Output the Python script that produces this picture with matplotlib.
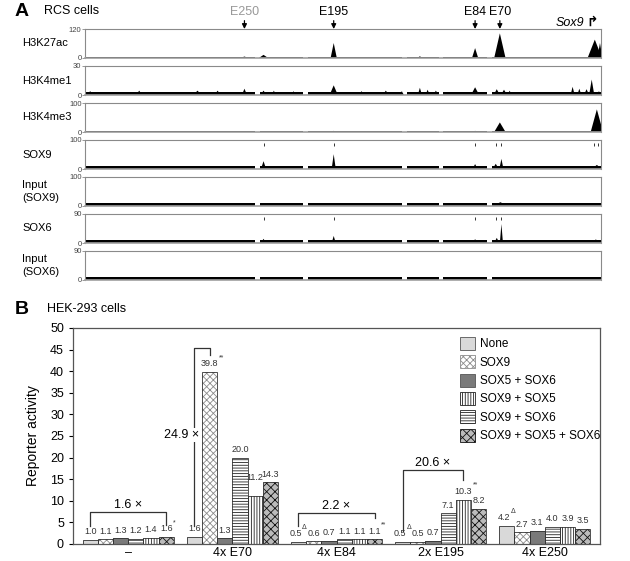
import matplotlib
matplotlib.use('Agg')
import matplotlib.pyplot as plt
import matplotlib.patches as mpatches

plt.rcParams['font.family'] = ['Liberation Sans', 'DejaVu Sans']
plt.rcParams['hatch.linewidth'] = 0.6

W, H = 630, 561

# ---------------- panel A data (position = % of the window, Sox9 at right) ----------------
track_names = ['H3K27ac', 'H3K4me1', 'H3K4me3', 'SOX9', 'Input\n(SOX9)', 'SOX6', 'Input\n(SOX6)']
track_max = [120, 30, 100, 100, 100, 90, 90]
track_base = [6, 3, 3, 10, 10, 8, 8]
# peaks: (position, height, half width)
track_peaks = [
    [(30.9, 6, 0.8), (34.6, 13, 0.9), (48.2, 62, 0.6), (64.9, 7, 0.5), (75.6, 41, 0.6),
     (80.4, 102, 1.1), (98.8, 76, 1.4), (99.8, 62, 0.5)],
    [(1.0, 4, 0.6), (10.5, 4.5, 0.6), (21.8, 4.5, 0.8), (25.7, 4.5, 0.6), (30.9, 6.5, 0.5),
     (34.6, 4.5, 0.6), (36.6, 4.5, 0.4), (40.4, 4, 0.4), (48.2, 10, 0.8), (53.6, 4, 0.5),
     (58.3, 4.5, 0.6), (61.4, 4, 0.4), (64.9, 7.5, 0.4), (66.4, 5.5, 0.4), (68.0, 4.5, 0.5),
     (75.6, 8, 0.8), (79.8, 6, 0.6), (81.2, 5.5, 0.6), (82.3, 4.5, 0.4), (94.5, 8.5, 0.4),
     (95.8, 6.5, 0.4), (97.2, 6, 0.5), (98.2, 16, 0.5), (99.6, 4, 0.4)],
    [(48.2, 4, 0.4), (75.6, 4, 0.4), (80.4, 33, 1.1), (99.2, 78, 1.2)],
    [(34.6, 27, 0.5), (48.2, 51, 0.4), (75.6, 17, 0.5), (79.6, 18, 0.6), (80.7, 35, 0.4),
     (99.2, 14, 1.0)],
    [(80.5, 13, 1.5)],
    [(34.6, 13, 0.5), (48.2, 22, 0.4), (75.6, 12, 0.5), (79.8, 16, 0.5), (80.7, 59, 0.3),
     (99.0, 11, 1.0)],
    [],
]
gaps = [33.4, 42.7, 61.9, 69.0, 78.4]
peak_calls = {3: [34.6, 48.2, 75.6, 79.6, 80.7, 98.7, 99.5],
              5: [34.6, 48.2, 75.6, 79.6, 80.7]}
enh_names = ['E250', 'E195', 'E84', 'E70']
enh_pos = [30.9, 48.2, 75.6, 80.4]
enh_colors = ['#999999', 'black', 'black', 'black']

# ---------------- panel B data ----------------
groups = ['\u2013', '4x E70', '4x E84', '2x E195', '4x E250']
series = ['None', 'SOX9', 'SOX5 + SOX6', 'SOX9 + SOX6', 'SOX9 + SOX5', 'SOX9 + SOX5 + SOX6']
values = [
    [1.0, 1.6, 0.5, 0.5, 4.2],
    [1.1, 39.8, 0.6, 0.5, 2.7],
    [1.3, 1.3, 0.7, 0.7, 3.1],
    [1.2, 20.0, 1.1, 7.1, 4.0],
    [1.4, 11.2, 1.1, 10.3, 3.9],
    [1.6, 14.3, 1.1, 8.2, 3.5],
]
marks = [
    ['', '', '\u0394', '\u0394', '\u0394'],
    ['', '**', '', '', ''],
    ['', '', '', '', ''],
    ['', '', '', '', ''],
    ['', '', '', '**', ''],
    ['*', '', '**', '', ''],
]
legend_order = ['None', 'SOX9', 'SOX5 + SOX6', 'SOX9 + SOX5', 'SOX9 + SOX6', 'SOX9 + SOX5 + SOX6']
# (group, first bar, last bar, left foot, right foot, top, text)
brackets = [
    (0, 0, 5, 4.2, 4.5, 7.4, '1.6 \u00d7'),
    (1, 0, 1, 4.2, 43.7, 45.4, '24.9 \u00d7'),
    (2, 0, 5, 4.2, 6.0, 7.2, '2.2 \u00d7'),
    (3, 0, 4, 3.0, 14.8, 17.1, '20.6 \u00d7'),
]

styles = {
    'None': dict(face='#d9d9d9', hatch=None, hcol='#d9d9d9'),
    'SOX9': dict(face='white', hatch='xxxxx', hcol='#8c8c8c'),
    'SOX5 + SOX6': dict(face='#7a7a7a', hatch=None, hcol='#7a7a7a'),
    'SOX9 + SOX6': dict(face='white', hatch='------', hcol='#222222'),
    'SOX9 + SOX5': dict(face='white', hatch='||||||', hcol='#222222'),
    'SOX9 + SOX5 + SOX6': dict(face='#bbbbbb', hatch='xxxx', hcol='#111111'),
}


def box(l, t, w, h):
    return [l / W, 1 - (t + h) / H, w / W, h / H]


fig = plt.figure(figsize=(W / 100, H / 100), dpi=100)

fig.text(15 / W, 1 - 12 / H, 'A', fontsize=14, fontweight='bold', va='center')
fig.text(44 / W, 1 - 11 / H, 'RCS cells', fontsize=9, va='center')

tr_left, tr_width, tr_top0, tr_step, tr_h = 85, 516, 29, 37, 29
track_axes = []
for i, name in enumerate(track_names):
    ax = fig.add_axes(box(tr_left, tr_top0 + i * tr_step, tr_width, tr_h))
    track_axes.append(ax)
    ymax = track_max[i]
    base = track_base[i]
    # baseline band, broken at gaps
    edges = [0]
    for g in gaps:
        edges += [g - 0.45, g + 0.45]
    edges.append(100)
    for a, b in zip(edges[::2], edges[1::2]):
        ax.fill_between([a, b], 0, base, color='black', lw=0)
    for c, h, w in track_peaks[i]:
        ax.fill([c - w, c, c + w], [0, h, 0], color='black', lw=0)
    if i in peak_calls:
        ax.vlines(peak_calls[i], 0.78 * ymax, 0.91 * ymax, color='#333333', lw=0.7)
    ax.set_xlim(0, 100)
    ax.set_ylim(0, ymax)
    ax.set_xticks([])
    ax.set_yticks([0, ymax])
    ax.set_yticklabels(['0', str(ymax)], fontsize=5.5, color='#444444')
    ax.tick_params(axis='y', length=2, width=0.6, color='#888888', pad=0.5)
    for s in ['top', 'left', 'right']:
        ax.spines[s].set_color('#8a8a8a')
        ax.spines[s].set_linewidth(0.8)
    ax.spines['bottom'].set_color('#a0a0a0')
    ax.spines['bottom'].set_linewidth(1.2)
    fig.text(22 / W, 1 - (tr_top0 + i * tr_step + tr_h / 2) / H, name,
             fontsize=8, va='center', ha='left', linespacing=1.3)

ax0 = track_axes[0]
for name, pos, col in zip(enh_names, enh_pos, enh_colors):
    ax0.annotate(name, xy=(pos, 1.0), xycoords=('data', 'axes fraction'),
                 xytext=(0, 8), textcoords='offset points', ha='center', va='bottom',
                 fontsize=9, color=col,
                 arrowprops=dict(arrowstyle='-|>', color='black', lw=0.9,
                                 shrinkA=0, shrinkB=0, mutation_scale=7))
ax0.text(94.0, 1.0, 'Sox9', transform=ax0.get_xaxis_transform(), fontsize=9,
         style='italic', ha='center', va='bottom')
ax0.text(98.2, 1.02, '\u21b1', transform=ax0.get_xaxis_transform(), fontsize=10,
         fontweight='bold', ha='center', va='bottom', family='DejaVu Sans')

# ---------------- panel B ----------------
fig.text(15 / W, 1 - 309 / H, 'B', fontsize=14, fontweight='bold', va='center')
fig.text(47 / W, 1 - 309 / H, 'HEK-293 cells', fontsize=9, va='center')

axb = fig.add_axes(box(73, 328, 527, 216))
bw = 0.146
n = len(series)


def bar_x(g, k):
    return g + (k - (n - 1) / 2) * bw


for k, s in enumerate(series):
    st = styles[s]
    xs = [bar_x(g, k) for g in range(len(groups))]
    axb.bar(xs, values[k], width=bw, color=st['face'], hatch=st['hatch'],
            edgecolor=st['hcol'], linewidth=0, zorder=2)
    axb.bar(xs, values[k], width=bw, fill=False, edgecolor='#333333', linewidth=0.6, zorder=3)
    for g, (x, v) in enumerate(zip(xs, values[k])):
        ly = v + 1.9
        if g == 1 and k == 4:
            ly = v + 4.1
        lbl = f'{v:.1f}'
        lx = x - 0.025 if marks[k][g] == '\u0394' else x
        axb.text(lx, ly, lbl, fontsize=6.5, ha='center', va='center', color='#333333')
        if marks[k][g]:
            axb.annotate(marks[k][g], xy=(lx, ly), xytext=(2.0 * len(lbl) - 1.5, 2.0),
                         textcoords='offset points', fontsize=5, ha='left', va='bottom',
                         color='#333333')

for g, a, b, ya, yb, top, txt in brackets:
    xa, xb = bar_x(g, a), bar_x(g, b)
    axb.plot([xa, xa, xb, xb], [ya, top, top, yb], color='#333333', lw=0.9, zorder=1)
    if g == 1:
        axb.text(xa + 0.05, 25.2, txt, fontsize=9, ha='right', va='center',
                 bbox=dict(facecolor='white', edgecolor='none', pad=0.5), zorder=4)
    else:
        axb.text((xa + xb) / 2, top + 0.3, txt, fontsize=9, ha='center', va='bottom')

axb.set_xlim(-0.53, 4.53)
axb.set_ylim(0, 50)
axb.set_yticks(range(0, 51, 5))
axb.set_xticks(range(len(groups)))
axb.set_xticklabels(groups, fontsize=9)
axb.tick_params(axis='x', length=0, pad=2)
axb.tick_params(axis='y', labelsize=9, length=3, width=0.8)
axb.set_ylabel('Reporter activity', fontsize=10, labelpad=7)
for s in axb.spines.values():
    s.set_color('#555555')
    s.set_linewidth(0.9)

handles = []
for s in legend_order:
    st = styles[s]
    handles.append(mpatches.Patch(facecolor=st['face'], hatch=st['hatch'],
                                  edgecolor='#555555' if st['hatch'] is None else st['hcol'],
                                  linewidth=0.6, label=s))
axb.legend(handles=handles, loc='upper left', bbox_to_anchor=(0.725, 0.98), frameon=False,
           fontsize=8.5, handlelength=1.3, handleheight=1.3, labelspacing=0.42,
           handletextpad=0.4, borderaxespad=0)

fig.savefig('out.png', dpi=100)
